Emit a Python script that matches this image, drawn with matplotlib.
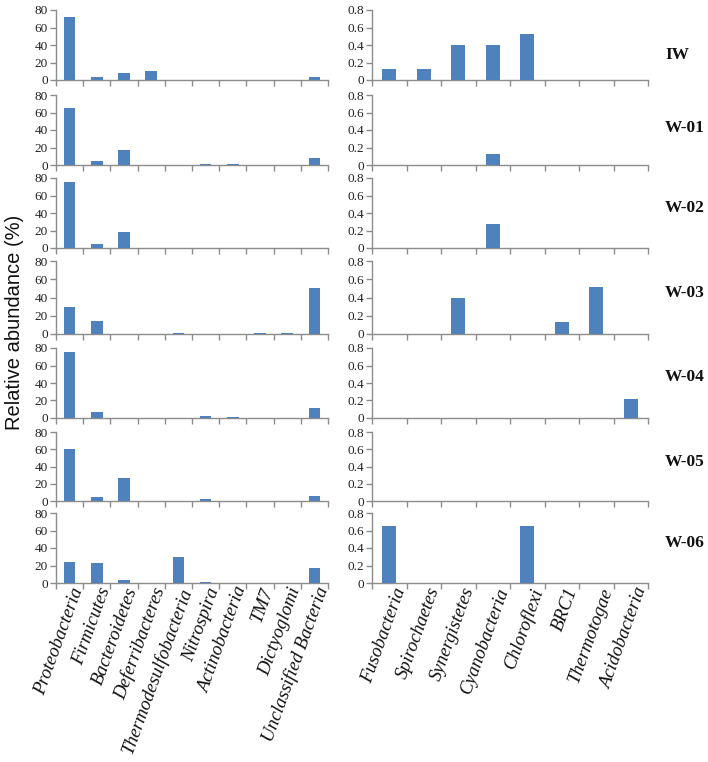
import matplotlib
matplotlib.use("Agg")
import matplotlib.pyplot as plt
import numpy as np

samples = ["IW", "W-01", "W-02", "W-03", "W-04", "W-05", "W-06"]

left_cats = ["Proteobacteria", "Firmicutes", "Bacteroidetes", "Deferribacteres",
             "Thermodesulfobacteria", "Nitrospira", "Actinobacteria", "TM7",
             "Dictyoglomi", "Unclassified Bacteria"]
right_cats = ["Fusobacteria", "Spirochaetes", "Synergistetes", "Cyanobacteria",
              "Chloroflexi", "BRC1", "Thermotogae", "Acidobacteria"]

left_IW = [72, 4, 8, 10.5, 0, 0, 0, 0, 0, 3]
left_W01 = [65, 5, 17, 0, 0, 1.5, 1, 0, 0, 8.5]
left_W02 = [76, 5, 18, 0, 0, 0, 0, 0, 0, 0.3]
left_W03 = [29.5, 14, 0, 0, 1.5, 0, 0, 1, 1, 50]
left_W04 = [76, 7, 0, 0, 0, 2.5, 1, 0, 0, 11]
left_W05 = [60, 5, 26.5, 0, 0, 2.5, 0, 0, 0, 6]
left_W06 = [24.5, 23, 3, 0, 30, 1, 0, 0, 0, 17]

right_IW = [0.13, 0.13, 0.40, 0.40, 0.53, 0, 0, 0]
right_W01 = [0, 0, 0, 0.13, 0, 0, 0, 0]
right_W02 = [0, 0, 0, 0.28, 0, 0, 0, 0]
right_W03 = [0, 0, 0.39, 0, 0, 0.13, 0.52, 0]
right_W04 = [0, 0, 0, 0, 0, 0, 0, 0.22]
right_W05 = [0, 0, 0, 0, 0, 0, 0, 0]
right_W06 = [0.65, 0, 0, 0, 0.65, 0, 0, 0]

left_vals = [left_IW, left_W01, left_W02, left_W03, left_W04, left_W05, left_W06]
right_vals = [right_IW, right_W01, right_W02, right_W03, right_W04, right_W05, right_W06]

W, H = 708, 762
fig = plt.figure(figsize=(W / 100, H / 100), dpi=100)

tops = [10, 95, 178, 261, 348, 432, 513]
bots = [80, 165, 248, 334, 418, 501, 583]
label_y = [55, 128, 208, 293, 377, 462, 543]

bar_color = "#4F81BD"
spine_color = "#8c8c8c"
serif = ["Liberation Serif", "DejaVu Serif"]

def style_ax(ax, n, ymax, yticks, ylabels):
    ax.set_xlim(-0.5, n - 0.5)
    ax.set_ylim(0, ymax)
    for s in ["top", "right"]:
        ax.spines[s].set_visible(False)
    for s in ["left", "bottom"]:
        ax.spines[s].set_color(spine_color)
        ax.spines[s].set_linewidth(1.0)
    ax.set_yticks(yticks)
    ax.set_yticklabels(ylabels, fontfamily=serif, fontsize=9.5, color="#222222")
    ax.set_xticks(np.arange(-0.5, n, 1.0))
    ax.set_xticklabels([])
    ax.tick_params(axis="both", direction="out", length=4, width=1, color=spine_color, pad=2)

for i in range(7):
    y0 = 1 - bots[i] / H
    h = (bots[i] - tops[i]) / H
    axl = fig.add_axes([56 / W, y0, 272 / W, h])
    axl.bar(np.arange(len(left_cats)), left_vals[i], width=0.42, color=bar_color, zorder=3)
    style_ax(axl, len(left_cats), 80, [0, 20, 40, 60, 80], ["0", "20", "40", "60", "80"])

    axr = fig.add_axes([372 / W, y0, 276 / W, h])
    axr.bar(np.arange(len(right_cats)), right_vals[i], width=0.42, color=bar_color, zorder=3)
    style_ax(axr, len(right_cats), 0.8, [0, 0.2, 0.4, 0.6, 0.8], ["0", "0.2", "0.4", "0.6", "0.8"])

    fig.text(665 / W, 1 - label_y[i] / H, samples[i], fontfamily=serif, fontsize=12.5,
             fontweight="bold", ha="left", va="center", color="#111111")

    if i == 6:
        for ax, cats in [(axl, left_cats), (axr, right_cats)]:
            for k, c in enumerate(cats):
                ax.text(k + 0.33, -0.07 * ax.get_ylim()[1], c, rotation=70,
                        rotation_mode="anchor", ha="right", va="center",
                        fontfamily=serif, fontstyle="italic", fontsize=13.5,
                        color="#111111", clip_on=False)

fig.text(15 / W, 1 - 322 / H, "Relative abundance (%)", rotation=90, ha="center", va="center",
         fontfamily=["Liberation Sans", "DejaVu Sans"], fontsize=14.5, color="#111111")

fig.savefig("out.png", dpi=100)
